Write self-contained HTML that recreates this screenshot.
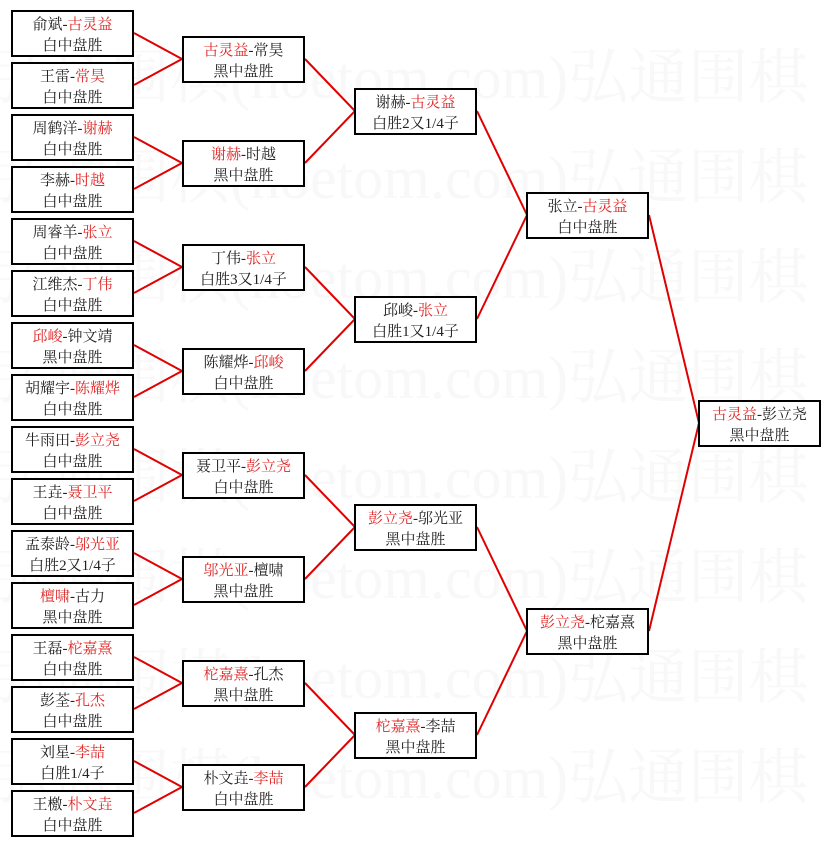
<!DOCTYPE html>
<html><head><meta charset="utf-8"><style>
body{margin:0;width:831px;height:845px;background:#fff;position:relative;overflow:hidden;font-family:"Liberation Serif","Noto Serif CJK SC",serif;}
.b{position:absolute;width:119px;height:40px;border:2px solid #000;background:#fff;text-align:center;font-size:15px;line-height:21px;color:#222;padding-top:3px;box-sizing:content-box;white-space:nowrap;}
.r{color:#e02828}
.wm{position:absolute;left:-10px;font-size:60px;color:#f8f8f8;white-space:nowrap;font-family:"Liberation Serif","Noto Serif CJK SC",serif;}
svg{position:absolute;left:0;top:0}
</style></head><body>
<div class="wm" style="top:30px">弘通围棋(hoetom.com)弘通围棋</div>
<div class="wm" style="top:130px">弘通围棋(hoetom.com)弘通围棋</div>
<div class="wm" style="top:230px">弘通围棋(hoetom.com)弘通围棋</div>
<div class="wm" style="top:330px">弘通围棋(hoetom.com)弘通围棋</div>
<div class="wm" style="top:430px">弘通围棋(hoetom.com)弘通围棋</div>
<div class="wm" style="top:530px">弘通围棋(hoetom.com)弘通围棋</div>
<div class="wm" style="top:630px">弘通围棋(hoetom.com)弘通围棋</div>
<div class="wm" style="top:730px">弘通围棋(hoetom.com)弘通围棋</div>
<svg width="831" height="845" stroke="#e00000" stroke-width="2" fill="none">
<path d="M134 33L182 59L134 85 M134 137L182 163L134 189 M134 241L182 267L134 293 M134 345L182 371L134 397 M134 449L182 475L134 501 M134 553L182 579L134 605 M134 657L182 683L134 709 M134 761L182 787L134 813"/>
<path d="M305 59L355 111L305 163 M305 267L355 319L305 371 M305 475L355 527L305 579 M305 683L355 735L305 787"/>
<path d="M477 111L527 215L477 319 M477 527L527 631L477 735"/>
<path d="M649 215L699 423L649 631"/>
</svg>
<div class="b" style="left:11px;top:10px">俞斌-<span class="r">古灵益</span><br>白中盘胜</div>
<div class="b" style="left:11px;top:62px">王雷-<span class="r">常昊</span><br>白中盘胜</div>
<div class="b" style="left:11px;top:114px">周鹤洋-<span class="r">谢赫</span><br>白中盘胜</div>
<div class="b" style="left:11px;top:166px">李赫-<span class="r">时越</span><br>白中盘胜</div>
<div class="b" style="left:11px;top:218px">周睿羊-<span class="r">张立</span><br>白中盘胜</div>
<div class="b" style="left:11px;top:270px">江维杰-<span class="r">丁伟</span><br>白中盘胜</div>
<div class="b" style="left:11px;top:322px"><span class="r">邱峻</span>-钟文靖<br>黑中盘胜</div>
<div class="b" style="left:11px;top:374px">胡耀宇-<span class="r">陈耀烨</span><br>白中盘胜</div>
<div class="b" style="left:11px;top:426px">牛雨田-<span class="r">彭立尧</span><br>白中盘胜</div>
<div class="b" style="left:11px;top:478px">王垚-<span class="r">聂卫平</span><br>白中盘胜</div>
<div class="b" style="left:11px;top:530px">孟泰龄-<span class="r">邬光亚</span><br>白胜2又1/4子</div>
<div class="b" style="left:11px;top:582px"><span class="r">檀啸</span>-古力<br>黑中盘胜</div>
<div class="b" style="left:11px;top:634px">王磊-<span class="r">柁嘉熹</span><br>白中盘胜</div>
<div class="b" style="left:11px;top:686px">彭荃-<span class="r">孔杰</span><br>白中盘胜</div>
<div class="b" style="left:11px;top:738px">刘星-<span class="r">李喆</span><br>白胜1/4子</div>
<div class="b" style="left:11px;top:790px">王檄-<span class="r">朴文垚</span><br>白中盘胜</div>

<div class="b" style="left:182px;top:36px"><span class="r">古灵益</span>-常昊<br>黑中盘胜</div>
<div class="b" style="left:182px;top:140px"><span class="r">谢赫</span>-时越<br>黑中盘胜</div>
<div class="b" style="left:182px;top:244px">丁伟-<span class="r">张立</span><br>白胜3又1/4子</div>
<div class="b" style="left:182px;top:348px">陈耀烨-<span class="r">邱峻</span><br>白中盘胜</div>
<div class="b" style="left:182px;top:452px">聂卫平-<span class="r">彭立尧</span><br>白中盘胜</div>
<div class="b" style="left:182px;top:556px"><span class="r">邬光亚</span>-檀啸<br>黑中盘胜</div>
<div class="b" style="left:182px;top:660px"><span class="r">柁嘉熹</span>-孔杰<br>黑中盘胜</div>
<div class="b" style="left:182px;top:764px">朴文垚-<span class="r">李喆</span><br>白中盘胜</div>

<div class="b" style="left:354px;top:88px">谢赫-<span class="r">古灵益</span><br>白胜2又1/4子</div>
<div class="b" style="left:354px;top:296px">邱峻-<span class="r">张立</span><br>白胜1又1/4子</div>
<div class="b" style="left:354px;top:504px"><span class="r">彭立尧</span>-邬光亚<br>黑中盘胜</div>
<div class="b" style="left:354px;top:712px"><span class="r">柁嘉熹</span>-李喆<br>黑中盘胜</div>

<div class="b" style="left:526px;top:192px">张立-<span class="r">古灵益</span><br>白中盘胜</div>
<div class="b" style="left:526px;top:608px"><span class="r">彭立尧</span>-柁嘉熹<br>黑中盘胜</div>

<div class="b" style="left:698px;top:400px"><span class="r">古灵益</span>-彭立尧<br>黑中盘胜</div>
</body></html>
